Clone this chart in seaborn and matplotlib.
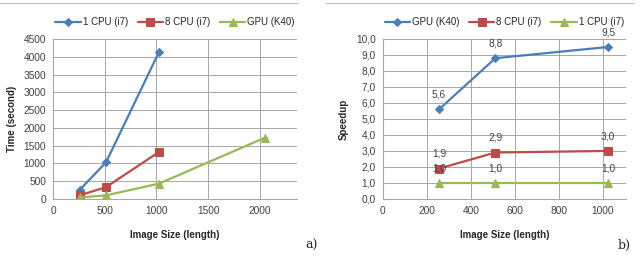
import numpy as np
import pandas as pd
import seaborn as sns
import matplotlib.pyplot as plt
from matplotlib.ticker import FuncFormatter

# time chart (a)
size_cpu = [256, 512, 1024]
size_gpu = [256, 512, 1024, 2048]
time_1cpu = [250, 1030, 4130]
time_8cpu = [100, 330, 1320]
time_gpu = [40, 100, 430, 1720]

# speedup chart (b)
size_sp = [256, 512, 1024]
sp_gpu = [5.6, 8.8, 9.5]
sp_8cpu = [1.9, 2.9, 3.0]
sp_1cpu = [1.0, 1.0, 1.0]

BLUE = "#4A7EBB"
RED = "#BE4B48"
GREEN = "#98B954"
GRID = "#A6A6A6"

sns.set_theme(style="white")
plt.rcParams['font.family'] = ['Liberation Sans', 'DejaVu Sans']

fig = plt.figure(figsize=(6.4, 2.67), dpi=100)
ax1 = fig.add_axes([0.083, 0.255, 0.381, 0.599])
ax2 = fig.add_axes([0.598, 0.255, 0.380, 0.599])


def style_axis(ax):
    for s in ["top", "right"]:
        ax.spines[s].set_visible(False)
    for s in ["left", "bottom"]:
        ax.spines[s].set_color(GRID)
        ax.spines[s].set_linewidth(0.8)
    ax.grid(True, color=GRID, linewidth=0.7)
    ax.set_axisbelow(True)
    ax.tick_params(axis="both", labelsize=7.3, colors="#404040", length=2,
                   width=0.6, pad=3, direction="out")
    ax.tick_params(axis="both", color=GRID)


series_a = [
    ("1 CPU (i7)", size_cpu, time_1cpu, BLUE, "D", 4),
    ("8 CPU (i7)", size_cpu, time_8cpu, RED, "s", 6),
    ("GPU (K40)", size_gpu, time_gpu, GREEN, "^", 6),
]
for name, xs, ys, c, m, ms in series_a:
    df = pd.DataFrame({"x": xs, "y": ys})
    sns.lineplot(data=df, x="x", y="y", ax=ax1, color=c, marker=m,
                 markersize=ms, markeredgecolor=c, linewidth=1.6, label=name)

ax1.set_xlim(0, 2360)
ax1.set_ylim(0, 4500)
ax1.set_xticks(np.arange(0, 2001, 500))
ax1.set_yticks(np.arange(0, 4501, 500))
style_axis(ax1)
ax1.set_xlabel("Image Size (length)", fontsize=7, fontweight="bold", labelpad=10)
ax1.set_ylabel("Time (second)", fontsize=7, fontweight="bold", labelpad=5)
ax1.legend(loc="lower center", bbox_to_anchor=(0.5, 1.05), ncol=3, frameon=False,
           fontsize=7, handlelength=2.6, columnspacing=1.0, handletextpad=0.2,
           borderaxespad=0)

series_b = [
    ("GPU (K40)", sp_gpu, BLUE, "D", 4),
    ("8 CPU (i7)", sp_8cpu, RED, "s", 6),
    ("1 CPU (i7)", sp_1cpu, GREEN, "^", 6),
]
for name, ys, c, m, ms in series_b:
    df = pd.DataFrame({"x": size_sp, "y": ys})
    sns.lineplot(data=df, x="x", y="y", ax=ax2, color=c, marker=m,
                 markersize=ms, markeredgecolor=c, linewidth=1.6, label=name)
    for xv, yv in zip(size_sp, ys):
        ax2.annotate(f"{yv:.1f}".replace(".", ","), (xv, yv), xytext=(0, 7),
                     textcoords="offset points", ha="center", va="bottom",
                     fontsize=7.3, color="#404040")

ax2.set_xlim(0, 1105)
ax2.set_ylim(0, 10)
ax2.set_xticks(np.arange(0, 1001, 200))
ax2.set_yticks(np.arange(0, 10.01, 1))
ax2.yaxis.set_major_formatter(FuncFormatter(lambda v, p: f"{v:.1f}".replace(".", ",")))
style_axis(ax2)
ax2.set_xlabel("Image Size (length)", fontsize=7, fontweight="bold", labelpad=10)
ax2.set_ylabel("Speedup", fontsize=7, fontweight="bold", labelpad=5)
ax2.legend(loc="lower center", bbox_to_anchor=(0.5, 1.05), ncol=3, frameon=False,
           fontsize=7, handlelength=2.6, columnspacing=1.0, handletextpad=0.2,
           borderaxespad=0)

# chart frame lines at top and panel letters
fig.add_artist(plt.Line2D([0.0, 0.465], [0.99, 0.99], color="#BFBFBF", lw=0.8))
fig.add_artist(plt.Line2D([0.51, 0.99], [0.99, 0.99], color="#BFBFBF", lw=0.8))
fig.text(0.477, 0.08, "a)", fontsize=9, family="DejaVu Serif", ha="left", va="center")
fig.text(0.985, 0.08, "b)", fontsize=9, family="DejaVu Serif", ha="right", va="center")

fig.savefig("out.png", dpi=100)
